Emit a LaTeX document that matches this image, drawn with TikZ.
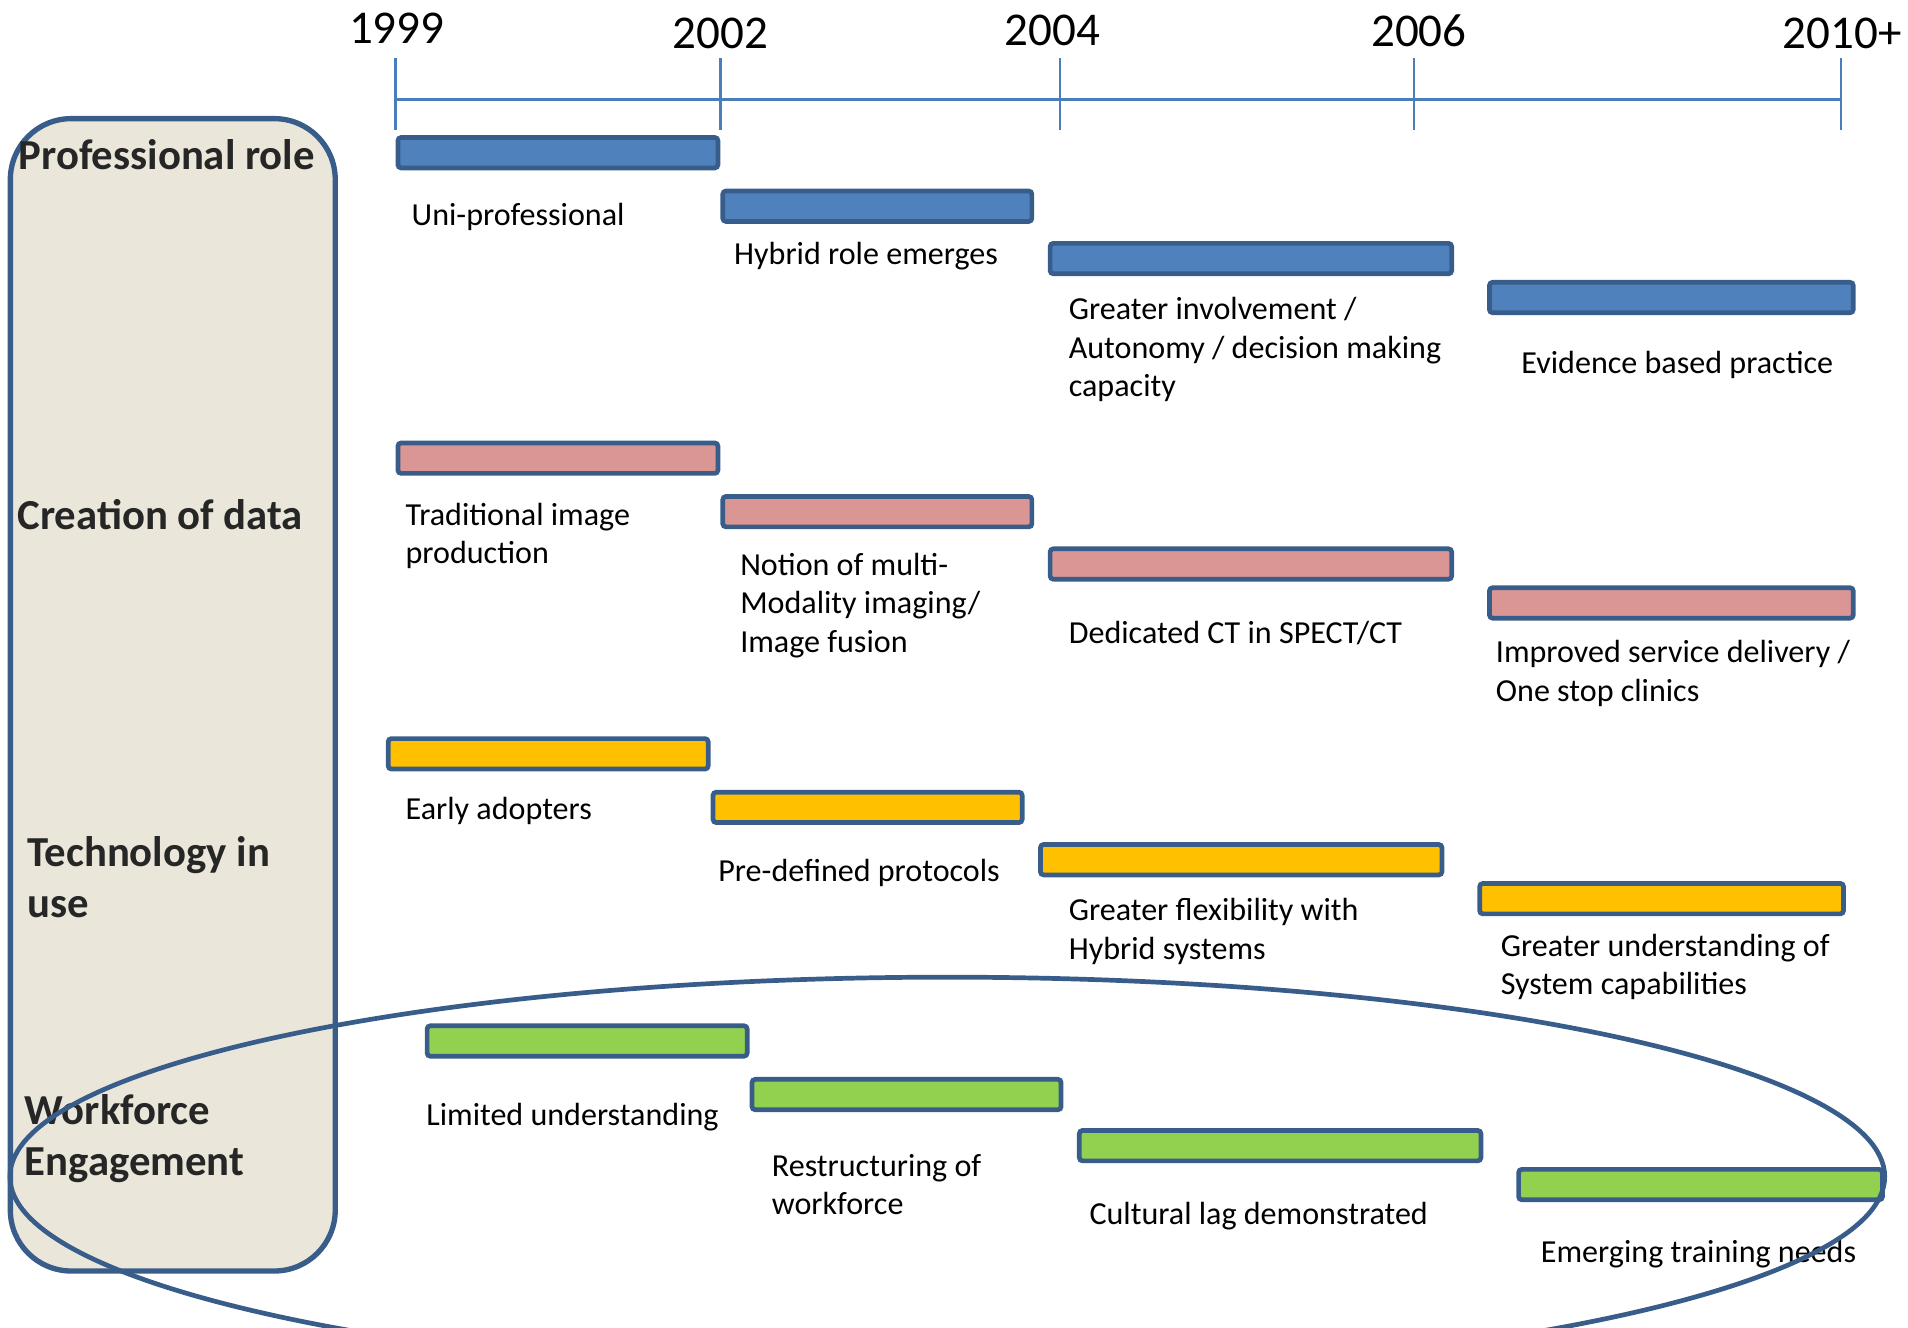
\documentclass[tikz,border=0pt]{standalone}
\usepackage{fontspec}
\setmainfont{Carlito}
\definecolor{axisblue}{HTML}{4A7EBB}
\definecolor{edgeblue}{HTML}{385D8A}
\definecolor{roleblue}{HTML}{4F81BD}
\definecolor{datapink}{HTML}{D99694}
\definecolor{techgold}{HTML}{FFC000}
\definecolor{workgreen}{HTML}{92D050}
\definecolor{panel}{HTML}{EAE7DA}
\definecolor{heading}{HTML}{262626}
\begin{document}
\begin{tikzpicture}[x=0.02cm,y=-0.02cm,
		bar/.style={draw=edgeblue,line width=2.2pt,rounded corners=1.5pt},
		lbl/.style={anchor=north west,inner sep=0pt,align=left,font=\fontsize{15}{18}\selectfont},
		cat/.style={anchor=north west,inner sep=0pt,align=left,text=heading,font=\fontsize{20}{24}\selectfont\bfseries},
		yr/.style={anchor=base,inner sep=0pt,font=\fontsize{22}{26}\selectfont}]
			\path[use as bounding box,clip] (0,0) rectangle (1568,1091);
			\draw[edgeblue,line width=2.5pt,fill=panel,rounded corners=1cm] (8.5,97.5) rectangle (275.5,1044.5);
			\draw[axisblue,line width=1.2pt] (325,82) -- (1513,82)
			(325,48) -- (325,107) (592,48) -- (592,107) (871,48) -- (871,107)
			(1162,48) -- (1162,107) (1513,48) -- (1513,107);
			\draw
			(326,36) node[yr](y1999){1999} (592,40) node[yr](y2002){2002}
			(865,37) node[yr](y2004){2004} (1166,38) node[yr](y2006){2006}
			(1514,40) node[yr](y2010){2010+};
			\draw
			(15,114) node[cat](role){Professional role}
			(14,410) node[cat](data){Creation of data}
			(22,687) node[cat](tech){Technology in\\use}
			(20,899) node[cat](work){Workforce\\Engagement};
			\draw[bar,fill=roleblue] (327,113) rectangle (590,138) (594,157) rectangle (848,182)
			(863,200) rectangle (1193,225) (1224,232) rectangle (1523,257);
			\draw[bar,fill=datapink] (327,364) rectangle (590,389) (594,408) rectangle (848,433)
			(863,451) rectangle (1193,476) (1224,483) rectangle (1523,508);
			\draw[bar,fill=techgold] (319,607) rectangle (582,632) (586,651) rectangle (840,676)
			(855,694) rectangle (1185,719) (1216,726) rectangle (1515,751);
			\draw[bar,fill=workgreen] (351,843) rectangle (614,868) (618,887) rectangle (872,912)
			(887,929) rectangle (1217,954) (1248,961) rectangle (1547,986);
			\draw
			(338,167) node[lbl](P1){Uni-professional}
			(603,199) node[lbl](P2){Hybrid role emerges}
			(878,244) node[lbl](P3){Greater involvement /\\Autonomy / decision making\\capacity}
			(1250,288) node[lbl](P4){Evidence based practice}
			(333,413) node[lbl](C1){Traditional image\\production}
			(608,454) node[lbl](C2){Notion of multi-\\Modality imaging/\\Image fusion}
			(878,510) node[lbl](C3){Dedicated CT in SPECT/CT}
			(1229,526) node[lbl](C4){Improved service delivery /\\One stop clinics}
			(333,655) node[lbl](T1){Early adopters}
			(590,706) node[lbl](T2){Pre-defined protocols}
			(878,738) node[lbl](T3){Greater flexibility with\\Hybrid systems}
			(1233,767) node[lbl](T4){Greater understanding of\\System capabilities}
			(350,906) node[lbl](W1){Limited understanding}
			(634,948) node[lbl](W2){Restructuring of\\workforce}
			(895,988) node[lbl](W3){Cultural lag demonstrated}
			(1266,1019) node[lbl](W4){Emerging training needs};
			\draw[edgeblue,line width=2.2pt] (778.5,967) ellipse [x radius=15.41cm,y radius=3.28cm];
		\end{tikzpicture}
\end{document}
